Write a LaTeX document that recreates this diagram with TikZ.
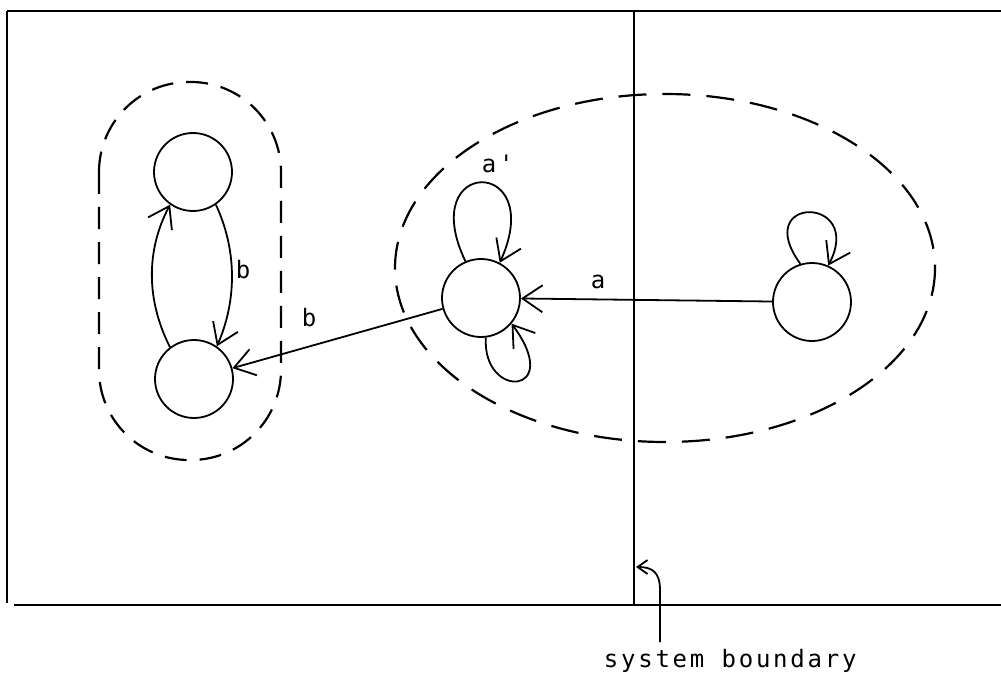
\documentclass[tikz,border=0pt]{standalone}
\usepackage{fontspec}
\newfontfamily\tw[LetterSpace=11.5]{DejaVu Sans Mono}
\usetikzlibrary{arrows.meta}
\begin{document}
\begin{tikzpicture}[x=1pt,y=-1pt,line width=1.8pt,
  state/.style={circle,draw,minimum size=78pt,inner sep=0pt},
  arr/.style={-{Straight Barb[length=20pt,width=27pt]}},
  arrsmall/.style={-{Straight Barb[length=10pt,width=14pt]}},
  lbl/.style={font=\tw\fontsize{24}{24}\selectfont,inner sep=0pt},
  dashA/.style={line width=2.2pt,dash pattern=on 22pt off 13pt},
  dashB/.style={line width=2.2pt,dash pattern=on 28pt off 16pt},
  frame/.style={line width=1.8pt}]
\useasboundingbox (0,0) rectangle (1001,679);
% frame
\coordinate (tl) at (7,11);
\coordinate (bl) at (7,603);
\coordinate (tr) at (1001,11);
\coordinate (bl2) at (14,605);
\coordinate (br) at (1001,605);
\coordinate (sbt) at (634,11);
\coordinate (sbb) at (634,605);
\draw[frame] (tl) -- (bl);
\draw[frame] (tl) -- (tr);
\draw[frame] (bl2) -- (br);
\draw[frame] (sbt) -- (sbb);
% regions
\draw[dashA,rounded corners=90pt] (99,82) rectangle (281,460);
\draw[dashB] (665,268) ellipse [x radius=270,y radius=174];
% states
\node[state] (A) at (193,172) {};
\node[state] (B) at (194,379) {};
\node[state] (C) at (481,298) {};
\node[state] (D) at (812,302) {};
% edges
\draw[arr] (B.127) .. controls (146,300) and (146,250) .. (A.235);
\draw[arr] (A.-55) .. controls (237,250) and (237,300) .. (B.55);
\draw[arr] (C) -- (B);
\draw[arr] (D) -- (C);
\draw[arr] (C.113) .. controls (415,156) and (548,156) .. (C.62);
\draw[arr] (C.-83) .. controls (482,400) and (565,396) .. (C.-40);
\draw[arr] (D.107) .. controls (750,195) and (865,195) .. (D.66);
% labels
\node[lbl,anchor=base] (lb1) at (243,278) {b};
\node[lbl,anchor=base] (lb2) at (309,326) {b};
\node[lbl,anchor=base] (la) at (598,288) {a};
\node[lbl,anchor=base west] (lap) at (481,173) {a{\char"27}};
% system boundary
\coordinate (sbs) at (660,642);
\coordinate (sbtip) at (636,567);
\draw[arrsmall] (sbs) -- (660,590) .. controls (660,572) and (652,567) .. (sbtip);
\node[lbl,anchor=base west] (sbl) at (603,667) {system boundary};
\end{tikzpicture}
\end{document}
